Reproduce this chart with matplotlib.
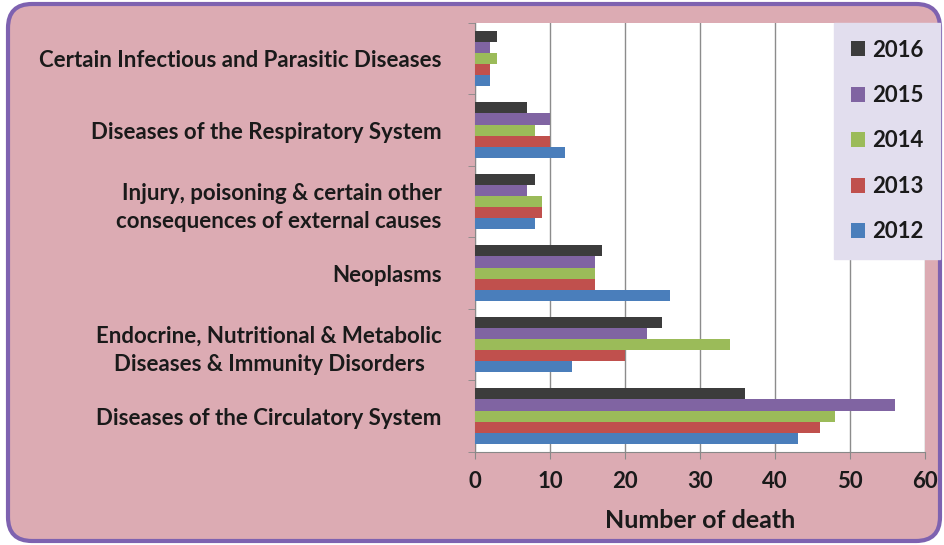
import numpy as np
import matplotlib
matplotlib.use("Agg")
import matplotlib.pyplot as plt
from matplotlib.patches import FancyBboxPatch
from matplotlib.transforms import IdentityTransform

# categories, bottom to top
categories = ["Diseases of the Circulatory System",
              "Endocrine, Nutritional & Metabolic\nDiseases & Immunity Disorders   ",
              "Neoplasms",
              "Injury, poisoning & certain other\nconsequences of external causes",
              "Diseases of the Respiratory System",
              "Certain Infectious and Parasitic Diseases"]
years = ["2012", "2013", "2014", "2015", "2016"]
v2012 = [43, 13, 26, 8, 12, 2]
v2013 = [46, 20, 16, 9, 10, 2]
v2014 = [48, 34, 16, 9, 8, 3]
v2015 = [56, 23, 16, 7, 10, 2]
v2016 = [36, 25, 17, 8, 7, 3]
colors = ["#4a7ebb", "#c0504d", "#9bbb59", "#8064a2", "#3c3c3c"]

plt.rcParams['font.family'] = ['Lato', 'DejaVu Sans']
plt.rcParams['font.weight'] = 'bold'

fig = plt.figure(figsize=(9.44, 5.45), dpi=100)
fig.patch.set_facecolor("white")
# rounded pink panel with purple border (pixel coords)
frame = FancyBboxPatch((8, 4), 932, 537, boxstyle="round,pad=0,rounding_size=24",
                       transform=IdentityTransform(), facecolor="#dcabb3", edgecolor="#7e62b0",
                       linewidth=3, zorder=-5)
fig.patches.append(frame)

ax = fig.add_axes([0.503, 0.171, 0.477, 0.787])
ax.set_zorder(2)
ax.set_facecolor("white")

y = np.arange(len(categories))
h = 0.155
series = [v2012, v2013, v2014, v2015, v2016]
for i, (yr, vals) in enumerate(zip(years, series)):
    ax.barh(y + (i - 2) * h, vals, height=h, color=colors[i], label=yr, zorder=3)

ax.set_xlim(0, 60)
ax.set_ylim(-0.5, len(categories) - 0.5)
ax.set_xticks(range(0, 61, 10))
ax.set_yticks(y)
ax.set_yticklabels(categories, fontsize=16, fontweight='bold', color="#1a1a1a", linespacing=1.45)
ax.set_yticks(np.arange(-0.5, len(categories), 1), minor=True)
ax.tick_params(axis='y', which='major', length=0, pad=24)
ax.tick_params(axis='y', which='minor', length=5, color="#888888", direction='out')
ax.tick_params(axis='x', length=5, color="#888888", labelsize=16, pad=9, labelcolor="#1a1a1a")
for lab in ax.get_xticklabels():
    lab.set_fontweight('bold')
ax.grid(axis='x', color="#8c8c8c", linewidth=1, zorder=0)
for s in ["top", "right"]:
    ax.spines[s].set_visible(False)
ax.spines["left"].set_color("#888888")
ax.spines["bottom"].set_color("#888888")
ax.set_xlabel("Number of death", fontsize=18, fontweight='bold', labelpad=12, color="#1a1a1a")

handles, labels = ax.get_legend_handles_labels()
leg = ax.legend(handles[::-1], labels[::-1], loc='upper right', bbox_to_anchor=(1.033, 1.0),
                prop={'size': 16, 'weight': 'bold'}, frameon=True, fancybox=False,
                labelspacing=1.1, handlelength=0.65, handleheight=0.65, handletextpad=0.3,
                borderpad=0.75, borderaxespad=0)
leg.get_frame().set_facecolor("#e2deee")
leg.get_frame().set_edgecolor("#e2deee")
leg.get_frame().set_alpha(1)
for t in leg.get_texts():
    t.set_color("#1a1a1a")

fig.savefig("out.png", dpi=100, facecolor=fig.get_facecolor())
